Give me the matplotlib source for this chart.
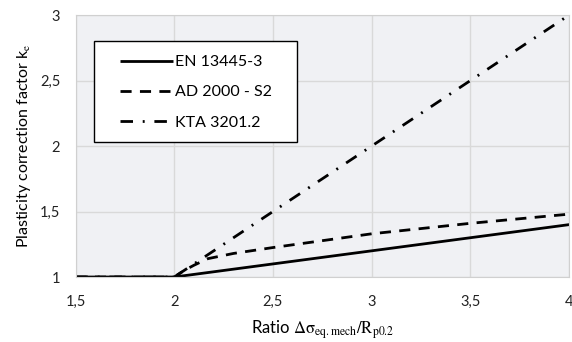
"""
Plasticity correction factor k_e according to three design codes.
"""
import matplotlib
matplotlib.use('Agg')
import matplotlib.pyplot as plt
from matplotlib.patches import Rectangle
from matplotlib.ticker import FuncFormatter, MultipleLocator

# =============================================================================
# DATA
# =============================================================================
ratio = [1.5, 2.0, 2.05, 2.1, 2.17, 2.3, 2.5, 3.0, 3.5, 4.0]
en_13445 = [1.0, 1.0, 1.01, 1.02, 1.034, 1.06, 1.10, 1.20, 1.30, 1.40]
ad_2000 = [1.0, 1.0, 1.05, 1.09, 1.14, 1.18, 1.225, 1.33, 1.41, 1.48]
kta_3201 = [1.0, 1.0, 1.05, 1.10, 1.17, 1.30, 1.50, 2.00, 2.50, 3.00]

SERIES = [
    ('EN 13445-3', en_13445, '-'),
    ('AD 2000 - S2', ad_2000, (0, (4, 3))),
    ('KTA 3201.2', kta_3201, (0, (4.5, 3.5, 0.7, 3.5))),
]

plt.rcParams['font.family'] = ['Lato', 'DejaVu Sans']
plt.rcParams['mathtext.fontset'] = 'stix'


def coma(v, _pos):
    return f'{v:g}'.replace('.', ',')


fig = plt.figure(figsize=(5.72, 3.42), dpi=100)
ax = fig.add_axes([0.132, 0.190, 0.863, 0.766])
ax.set_facecolor('#f0f1f4')

for label, vals, ls in SERIES:
    ax.plot(ratio, vals, color='black', lw=2.0, linestyle=ls, label=label,
            solid_capstyle='butt', dash_capstyle='butt')

ax.set_xlim(1.5, 4)
ax.set_ylim(1, 3)
ax.xaxis.set_major_locator(MultipleLocator(0.5))
ax.yaxis.set_major_locator(MultipleLocator(0.5))
ax.xaxis.set_major_formatter(FuncFormatter(coma))
ax.yaxis.set_major_formatter(FuncFormatter(coma))
ax.grid(True, color='#d9d9d9', lw=1)
ax.set_axisbelow(True)
for s in ax.spines.values():
    s.set_color('#d0d0d0')
ax.tick_params(length=0, labelsize=10.5, colors='#222222')
ax.tick_params(axis='x', pad=13)
ax.tick_params(axis='y', pad=11)

ax.set_xlabel(r'Ratio $\mathrm{\Delta\sigma}_{\mathrm{eq.mech}}/\mathrm{R}_{\mathrm{p0.2}}$',
              fontsize=12, labelpad=7)
ax.set_ylabel(r'Plasticity correction factor k$_{\mathrm{e}}$', fontsize=11.5, labelpad=5)

# legend box
ax.add_patch(Rectangle((0.0375, 0.515), 0.4115, 0.386, transform=ax.transAxes,
                       facecolor='white', edgecolor='black', lw=1.0, zorder=4))
leg = ax.legend(loc='upper left', bbox_to_anchor=(0.090, 0.847), fontsize=11.5,
                frameon=False, handlelength=3.3, handletextpad=0.15, borderpad=0,
                labelspacing=1.0, borderaxespad=0)
leg.set_zorder(5)

fig.savefig('out.png', dpi=100)
plt.close(fig)
